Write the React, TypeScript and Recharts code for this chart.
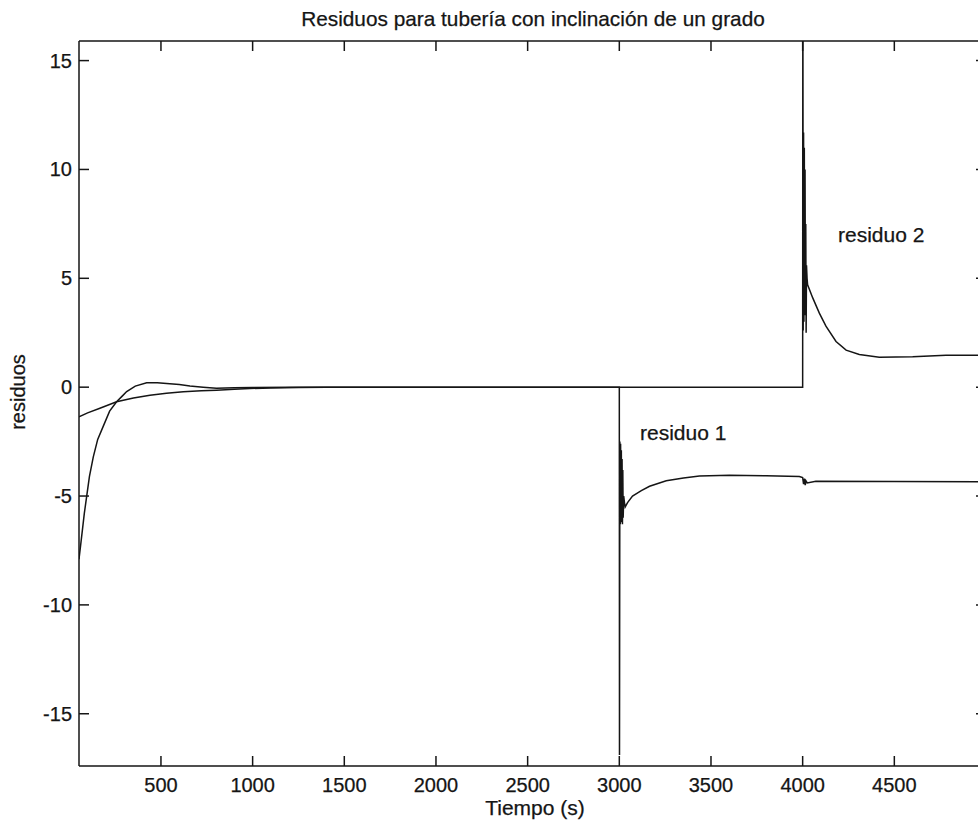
import React from "react";
import { LineChart, Line, XAxis, YAxis } from "recharts";

// residuo 1 (time in s, value)
const r1Time = [53, 60, 71, 82, 95, 110, 131, 155, 185, 220, 258, 290, 313, 360, 422, 480, 531, 600, 658, 730, 803, 900, 1000, 1200, 1500, 2000, 2500, 2999,
  3000, 3001, 3003, 3005, 3007, 3009, 3011, 3013, 3015, 3017, 3019, 3021, 3024, 3028, 3032, 3045, 3072, 3120, 3165, 3256, 3350, 3437, 3600, 3800, 3982,
  4000, 4005, 4010, 4014, 4018, 4025, 4072, 4500, 5000];
const r1Value = [-7.9, -7.4, -6.6, -5.8, -5.0, -4.1, -3.2, -2.4, -1.8, -1.1, -0.67, -0.4, -0.2, 0.05, 0.2, 0.2, 0.17, 0.12, 0.05, 0.0, -0.05, -0.03, -0.02, 0, 0, 0, 0, 0,
  0, -16.9, -2.5, -6.3, -2.6, -6.2, -2.9, -6.0, -3.3, -6.3, -3.8, -6.0, -5.0, -5.3, -5.5, -5.3, -5.0, -4.75, -4.55, -4.3, -4.17, -4.08, -4.05, -4.07, -4.1,
  -4.15, -4.45, -4.2, -4.5, -4.3, -4.4, -4.32, -4.33, -4.35];

// residuo 2
const r2Time = [53, 100, 167, 258, 350, 440, 530, 622, 720, 803, 900, 985, 1100, 1250, 1400, 2000, 3000, 3999,
  4000, 4001, 4003, 4005, 4007, 4009, 4011, 4013, 4015, 4017, 4019, 4021, 4024, 4027, 4055, 4091, 4127, 4182, 4237, 4309, 4418, 4600, 4782, 5000];
const r2Value = [-1.36, -1.18, -0.97, -0.67, -0.5, -0.37, -0.28, -0.21, -0.17, -0.14, -0.1, -0.06, -0.04, -0.02, 0, 0, 0, 0,
  0, 20, 2.6, 11.7, 3.0, 11.0, 3.3, 10.0, 4.0, 7.5, 2.5, 5.6, 5.0, 4.7, 4.1, 3.4, 2.8, 2.1, 1.7, 1.5, 1.38, 1.4, 1.47, 1.47];

const xTicks = [500, 1000, 1500, 2000, 2500, 3000, 3500, 4000, 4500];
const yTicks = [-15, -10, -5, 0, 5, 10, 15];
const xDomain = [53, 5000];
const yDomain = [-17.4, 15.9];

const titleText = "Residuos para tubería con inclinación de un grado";
const xLabelText = "Tiempo (s)";
const yLabelText = "residuos";
const label1 = "residuo 1";
const label2 = "residuo 2";

const r1Data = r1Time.map((t, i) => ({ t, v: r1Value[i] }));
const r2Data = r2Time.map((t, i) => ({ t, v: r2Value[i] }));

// layout
const CHART_W = 1000;
const CHART_H = 826;
const M_TOP = 40;
const TOP_AXIS_H = 1;
const LEFT_AXIS_W = 79;
const RIGHT_AXIS_W = 14;
const BOTTOM_AXIS_H = 60;
const PLOT_LEFT = LEFT_AXIS_W;
const PLOT_RIGHT = CHART_W - RIGHT_AXIS_W;
const PLOT_TOP = M_TOP + TOP_AXIS_H;
const PLOT_BOTTOM = CHART_H - BOTTOM_AXIS_H;
const TICK = 10;

const FONT = "'Liberation Sans', Arial, sans-serif";
const INK = "#151515";
const axisLine = { stroke: INK, strokeWidth: 1.5 };
const textStyle = { fontFamily: FONT, fill: INK, stroke: INK, strokeWidth: 0.25 };

const BottomTick = (props: any) => {
  const { x, payload } = props;
  return (
    <g>
      <line x1={x} y1={PLOT_BOTTOM} x2={x} y2={PLOT_BOTTOM - TICK} stroke={INK} strokeWidth={1.5} />
      <text x={x} y={PLOT_BOTTOM + 26} textAnchor="middle" fontSize={20} {...textStyle}>
        {payload.value}
      </text>
    </g>
  );
};
const TopTick = (props: any) => {
  const { x } = props;
  return <line x1={x} y1={PLOT_TOP} x2={x} y2={PLOT_TOP + TICK} stroke={INK} strokeWidth={1.5} />;
};
const LeftTick = (props: any) => {
  const { y, payload } = props;
  return (
    <g>
      <line x1={PLOT_LEFT} y1={y} x2={PLOT_LEFT + TICK} y2={y} stroke={INK} strokeWidth={1.5} />
      <text x={PLOT_LEFT - 7} y={y + 7} textAnchor="end" fontSize={20} {...textStyle}>
        {payload.value}
      </text>
    </g>
  );
};
const RightTick = (props: any) => {
  const { y } = props;
  return <line x1={PLOT_RIGHT} y1={y} x2={PLOT_RIGHT - TICK} y2={y} stroke={INK} strokeWidth={1.5} />;
};

export default function App() {
  return (
    <div style={{ position: "absolute", left: 0, top: 0, width: 978, height: 826, overflow: "hidden", background: "#fff" }}>
      <LineChart width={CHART_W} height={CHART_H} margin={{ top: M_TOP, right: 0, bottom: 0, left: 0 }}>
        <XAxis
          xAxisId={0}
          dataKey="t"
          type="number"
          domain={xDomain}
          ticks={xTicks}
          interval={0}
          allowDataOverflow
          height={BOTTOM_AXIS_H}
          tickLine={false}
          tick={BottomTick}
          axisLine={axisLine}
        />
        <XAxis
          xAxisId="top"
          orientation="top"
          dataKey="t"
          type="number"
          domain={xDomain}
          ticks={xTicks}
          interval={0}
          allowDataOverflow
          height={TOP_AXIS_H}
          tickLine={false}
          tick={TopTick}
          axisLine={axisLine}
        />
        <YAxis
          yAxisId={0}
          type="number"
          domain={yDomain}
          ticks={yTicks}
          interval={0}
          allowDataOverflow
          width={LEFT_AXIS_W}
          tickLine={false}
          tick={LeftTick}
          axisLine={axisLine}
        />
        <YAxis
          yAxisId="right"
          orientation="right"
          type="number"
          domain={yDomain}
          ticks={yTicks}
          interval={0}
          allowDataOverflow
          width={RIGHT_AXIS_W}
          tickLine={false}
          tick={RightTick}
          axisLine={axisLine}
        />
        <Line data={r1Data} dataKey="v" xAxisId={0} yAxisId={0} type="linear" stroke={INK} strokeWidth={1.5} dot={false} isAnimationActive={false} />
        <Line data={r2Data} dataKey="v" xAxisId={0} yAxisId={0} type="linear" stroke={INK} strokeWidth={1.5} dot={false} isAnimationActive={false} />
        <text x={533} y={26} textAnchor="middle" fontSize={20.8} {...textStyle}>{titleText}</text>
        <text x={535} y={815} textAnchor="middle" fontSize={21} {...textStyle}>{xLabelText}</text>
        <text x={25} y={392} textAnchor="middle" fontSize={20} {...textStyle} transform="rotate(-90 25 392)">{yLabelText}</text>
        <text x={640} y={440} fontSize={21} {...textStyle}>{label1}</text>
        <text x={838} y={242} fontSize={21} {...textStyle}>{label2}</text>
      </LineChart>
    </div>
  );
}
